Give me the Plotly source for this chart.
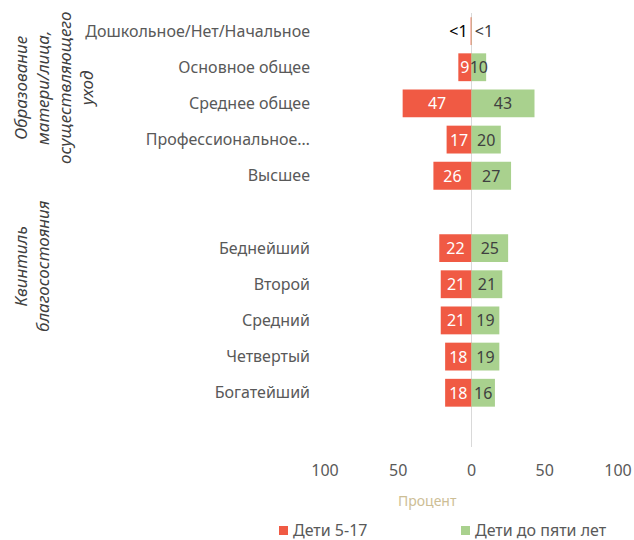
import plotly.graph_objects as go

categories = ["Дошкольное/Нет/Начальное", "Основное общее", "Среднее общее",
              "Профессиональное…", "Высшее", " ",
              "Беднейший", "Второй", "Средний", "Четвертый", "Богатейший", "  "]
older = [0.6, 9, 47, 17, 26, None, 22, 21, 21, 18, 18, None]
older_text = ["<1", "9", "47", "17", "26", "", "22", "21", "21", "18", "18", ""]
younger = [0.2, 10, 43, 20, 27, None, 25, 21, 19, 19, 16, None]
younger_text = ["<1", "10", "43", "20", "27", "", "25", "21", "19", "19", "16", ""]
x_tickvals = [-100, -50, 0, 50, 100]
x_ticktext = ["100", "50", "0", "50", "100"]
series_names = ["Дети 5-17", "Дети до пяти лет"]

RED = "#F05A44"
GREEN = "#A9D18E"
FONT = "Noto Sans"

W, H = 634, 540
L, R, T, B = 325, 16, 13, 93
pw, ph = W - L - R, H - T - B

def px(x):
    return (x - L) / pw

def py(y):
    return (H - B - y) / ph

fig = go.Figure()
fig.add_trace(go.Bar(
    y=categories, x=[-v if v is not None else None for v in older], orientation="h",
    name=series_names[0], marker=dict(color=RED, line=dict(width=0)),
    text=older_text, textangle=0,
    textposition=["outside"] + ["inside"] * 11,
    insidetextanchor="middle",
    textfont=dict(color=["#000000"] + ["#FFFFFF"] * 11, size=16, family=FONT),
    cliponaxis=False, hoverinfo="skip",
))
fig.add_trace(go.Bar(
    y=categories, x=younger, orientation="h",
    name=series_names[1], marker=dict(color=GREEN, line=dict(width=0)),
    text=younger_text, textangle=0,
    textposition=["outside"] + ["inside"] * 11,
    insidetextanchor="middle",
    textfont=dict(color="#404040", size=16, family=FONT),
    cliponaxis=False, hoverinfo="skip",
))

fig.update_layout(
    width=W, height=H,
    margin=dict(l=L, r=R, t=T, b=B, autoexpand=False),
    paper_bgcolor="white", plot_bgcolor="white",
    barmode="relative", bargap=0.23,
    uniformtext=dict(minsize=16, mode="show"),
    font=dict(family=FONT, color="#595959", size=15),
    xaxis=dict(range=[-100, 100], tickvals=x_tickvals, ticktext=x_ticktext,
               showgrid=False, zeroline=True, zerolinecolor="#D9D9D9", zerolinewidth=1.5,
               showline=False, ticks="", ticklabelstandoff=12, automargin=False,
               tickfont=dict(size=16, color="#595959"), fixedrange=True),
    yaxis=dict(categoryorder="array", categoryarray=categories, autorange="reversed",
               showgrid=False, showline=False, ticks="", ticklabelstandoff=14, automargin=False,
               tickfont=dict(size=16, color="#595959"), fixedrange=True),
    showlegend=False,
)

fig.add_annotation(text="Процент", x=px(427), y=py(500), xref="paper", yref="paper",
                   xanchor="center", yanchor="middle",
                   showarrow=False, font=dict(size=14, color="#CDBE95"))
fig.add_annotation(text="Образование<br>матери/лица,<br>осуществляющего<br>уход",
                   x=px(54), y=py(88), xref="paper", yref="paper", textangle=-90,
                   xanchor="center", yanchor="middle",
                   showarrow=False, align="center",
                   font=dict(size=17, color="#404040", style="italic"))
fig.add_annotation(text="Квинтиль<br>благосостояния",
                   x=px(31), y=py(266), xref="paper", yref="paper", textangle=-90,
                   xanchor="center", yanchor="middle",
                   showarrow=False, align="center",
                   font=dict(size=17, color="#404040", style="italic"))

# legend
for name, color, sx in [(series_names[0], RED, 279), (series_names[1], GREEN, 461)]:
    fig.add_shape(type="rect", xref="paper", yref="paper",
                  x0=px(sx), x1=px(sx + 9), y0=py(535), y1=py(526),
                  fillcolor=color, line=dict(width=0))
    fig.add_annotation(text=name, x=px(sx + 12), y=py(530), xref="paper", yref="paper",
                       xanchor="left", yanchor="middle", showarrow=False,
                       font=dict(size=16, color="#595959"))

fig.write_html("out.html", config={"displayModeBar": False, "staticPlot": True},
               post_script="document.body.style.margin='0';document.body.style.overflow='hidden';")
